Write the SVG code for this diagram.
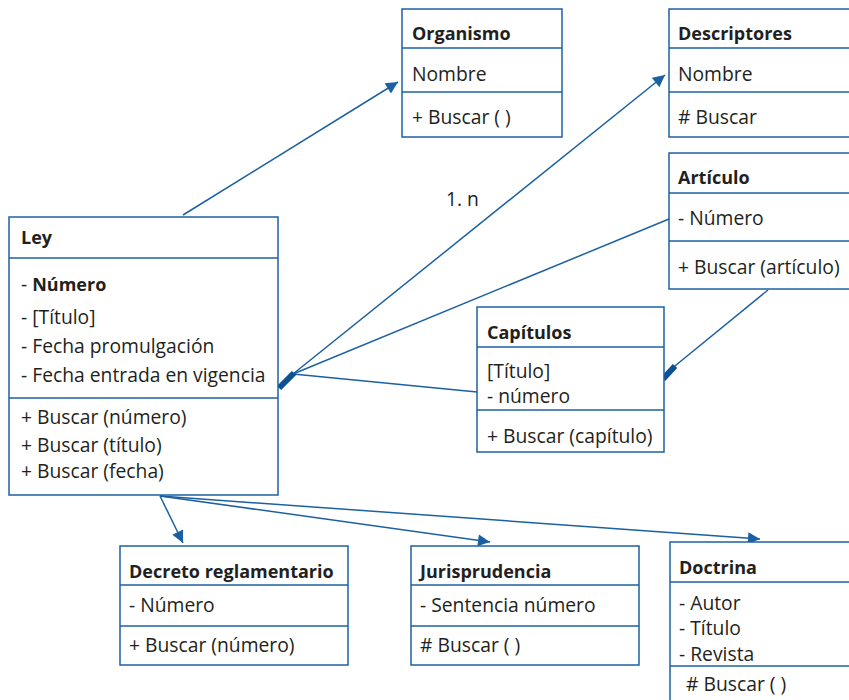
<svg xmlns="http://www.w3.org/2000/svg" width="849" height="700" viewBox="0 0 849 700">
<defs>
<style>
.box{fill:#fff;stroke:#1b61a1;stroke-width:1.5}
.ln{stroke:#1b61a1;stroke-width:1.5;fill:none}
.t{font-family:"Open Sans","Noto Sans",sans-serif;font-size:19.3px;fill:#231f20}
.b{font-weight:bold;font-size:18px}
.bar{stroke:#0e5192;stroke-width:6;fill:none}
</style>
<marker id="ar" viewBox="0 0 12 12" refX="12" refY="6" markerWidth="13" markerHeight="12" markerUnits="userSpaceOnUse" orient="auto">
<path d="M0,0 L12,6 L0,12 z" fill="#1b61a1"/>
</marker>
</defs>
<rect width="849" height="700" fill="#fff"/>
<g id="connectors">
<line class="ln" x1="183" y1="215" x2="398" y2="82" marker-end="url(#ar)"/>
<line class="ln" x1="293" y1="374" x2="665" y2="75" marker-end="url(#ar)"/>
<line class="ln" x1="293" y1="374" x2="669" y2="219"/>
<line class="ln" x1="293" y1="374" x2="477" y2="392"/>
<line class="bar" x1="279" y1="388" x2="294" y2="373"/>
<line class="ln" x1="768" y1="290" x2="670" y2="370"/>
<line class="bar" x1="663" y1="379" x2="675" y2="366"/>
<line class="ln" x1="160" y1="496" x2="183" y2="543" marker-end="url(#ar)"/>
<line class="ln" x1="160" y1="496" x2="490" y2="542" marker-end="url(#ar)"/>
<line class="ln" x1="160" y1="496" x2="760" y2="539" marker-end="url(#ar)"/>
<text class="t" x="446" y="206">1. n</text>
</g>
<g id="organismo">
<rect class="box" x="402" y="9" width="160" height="128"/>
<line class="ln" x1="402" y1="48" x2="562" y2="48"/>
<line class="ln" x1="402" y1="92" x2="562" y2="92"/>
<text class="t b" x="412" y="40">Organismo</text>
<text class="t" x="412" y="81">Nombre</text>
<text class="t" x="412" y="124">+ Buscar ( )</text>
</g>
<g id="descriptores">
<rect class="box" x="669" y="9" width="190" height="128"/>
<line class="ln" x1="669" y1="48" x2="849" y2="48"/>
<line class="ln" x1="669" y1="92" x2="849" y2="92"/>
<text class="t b" x="678" y="40">Descriptores</text>
<text class="t" x="678" y="81">Nombre</text>
<text class="t" x="678" y="124"># Buscar</text>
</g>
<g id="articulo">
<rect class="box" x="669" y="153" width="190" height="136"/>
<line class="ln" x1="669" y1="193" x2="849" y2="193"/>
<line class="ln" x1="669" y1="241" x2="849" y2="241"/>
<text class="t b" x="678" y="184">Artículo</text>
<text class="t" x="678" y="225">- Número</text>
<text class="t" x="678" y="274">+ Buscar (artículo)</text>
</g>
<g id="ley">
<rect class="box" x="9" y="217" width="269" height="278"/>
<line class="ln" x1="9" y1="258" x2="278" y2="258"/>
<line class="ln" x1="9" y1="398" x2="278" y2="398"/>
<text class="t b" x="21" y="244">Ley</text>
<text class="t" x="21" y="291">- <tspan class="b">Número</tspan></text>
<text class="t" x="21" y="324">- [Título]</text>
<text class="t" x="21" y="353">- Fecha promulgación</text>
<text class="t" x="21" y="382">- Fecha entrada en vigencia</text>
<text class="t" x="21" y="424">+ Buscar (número)</text>
<text class="t" x="21" y="452">+ Buscar (título)</text>
<text class="t" x="21" y="478">+ Buscar (fecha)</text>
</g>
<g id="capitulos">
<rect class="box" x="477" y="307" width="187" height="145"/>
<line class="ln" x1="477" y1="347" x2="664" y2="347"/>
<line class="ln" x1="477" y1="410" x2="664" y2="410"/>
<text class="t b" x="487" y="339">Capítulos</text>
<text class="t" x="487" y="378">[Título]</text>
<text class="t" x="487" y="403">- número</text>
<text class="t" x="487" y="443">+ Buscar (capítulo)</text>
</g>
<g id="decreto">
<rect class="box" x="120" y="546" width="228" height="119"/>
<line class="ln" x1="120" y1="585" x2="348" y2="585"/>
<line class="ln" x1="120" y1="626" x2="348" y2="626"/>
<text class="t b" x="129" y="578">Decreto reglamentario</text>
<text class="t" x="129" y="612">- Número</text>
<text class="t" x="129" y="652">+ Buscar (número)</text>
</g>
<g id="jurisprudencia">
<rect class="box" x="411" y="546" width="228" height="119"/>
<line class="ln" x1="411" y1="585" x2="639" y2="585"/>
<line class="ln" x1="411" y1="626" x2="639" y2="626"/>
<text class="t b" x="420" y="578">Jurisprudencia</text>
<text class="t" x="420" y="612">- Sentencia número</text>
<text class="t" x="420" y="652"># Buscar ( )</text>
</g>
<g id="doctrina">
<rect class="box" x="670" y="542" width="190" height="170"/>
<line class="ln" x1="670" y1="582" x2="849" y2="582"/>
<line class="ln" x1="670" y1="666" x2="849" y2="666"/>
<text class="t b" x="679" y="574">Doctrina</text>
<text class="t" x="679" y="610">- Autor</text>
<text class="t" x="679" y="635">- Título</text>
<text class="t" x="679" y="661">- Revista</text>
<text class="t" x="686" y="691"># Buscar ( )</text>
</g>
</svg>
